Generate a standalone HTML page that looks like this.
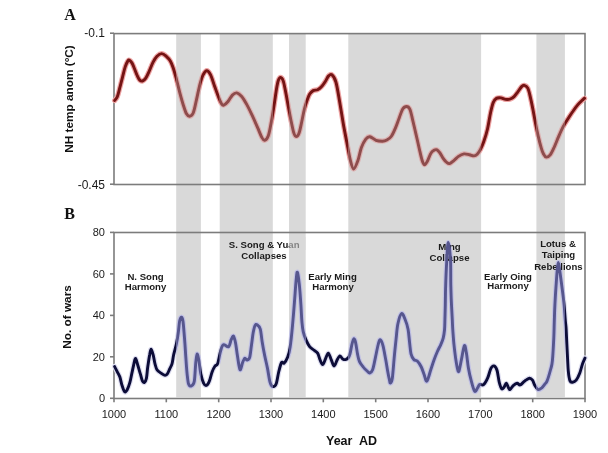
<!DOCTYPE html>
<html><head><meta charset="utf-8"><style>
html,body{margin:0;padding:0;background:#fff;}
body{width:608px;height:453px;overflow:hidden;position:relative;}
svg{position:absolute;left:0;top:0;filter:blur(0.3px);}
text{font-family:"Liberation Sans",sans-serif;}
</style></head><body>
<svg width="608" height="453" viewBox="0 0 608 453" xmlns="http://www.w3.org/2000/svg">
<defs>
<clipPath id="out"><rect x="0.0" y="0" width="176.2" height="453"/><rect x="200.9" y="0" width="18.8" height="453"/><rect x="272.8" y="0" width="16.2" height="453"/><rect x="305.7" y="0" width="42.6" height="453"/><rect x="481.1" y="0" width="55.3" height="453"/><rect x="564.9" y="0" width="43.1" height="453"/></clipPath>
<clipPath id="inb"><rect x="176.2" y="0" width="24.7" height="453"/><rect x="219.7" y="0" width="53.1" height="453"/><rect x="289.0" y="0" width="16.7" height="453"/><rect x="348.3" y="0" width="132.8" height="453"/><rect x="536.4" y="0" width="28.5" height="453"/></clipPath>
</defs>
<g fill="#d9d9d9"><rect x="176.2" y="34.0" width="24.7" height="363.2"/><rect x="219.7" y="34.0" width="53.1" height="363.2"/><rect x="289.0" y="34.0" width="16.7" height="363.2"/><rect x="348.3" y="34.0" width="132.8" height="363.2"/><rect x="536.4" y="34.0" width="28.5" height="363.2"/></g>
<g fill="none" stroke="#7c7c7c" stroke-width="1.6">
<rect x="114" y="33.6" width="471" height="150.9"/>
<rect x="114" y="232.5" width="471" height="166"/>
<line x1="114.0" y1="398.3" x2="114.0" y2="402.3"/><line x1="166.3" y1="398.3" x2="166.3" y2="402.3"/><line x1="218.7" y1="398.3" x2="218.7" y2="402.3"/><line x1="271.0" y1="398.3" x2="271.0" y2="402.3"/><line x1="323.3" y1="398.3" x2="323.3" y2="402.3"/><line x1="375.7" y1="398.3" x2="375.7" y2="402.3"/><line x1="428.0" y1="398.3" x2="428.0" y2="402.3"/><line x1="480.3" y1="398.3" x2="480.3" y2="402.3"/><line x1="532.7" y1="398.3" x2="532.7" y2="402.3"/><line x1="585.0" y1="398.3" x2="585.0" y2="402.3"/><line x1="110.0" y1="398.3" x2="114.0" y2="398.3"/><line x1="110.0" y1="356.8" x2="114.0" y2="356.8"/><line x1="110.0" y1="315.4" x2="114.0" y2="315.4"/><line x1="110.0" y1="273.9" x2="114.0" y2="273.9"/><line x1="110.0" y1="232.4" x2="114.0" y2="232.4"/><line x1="110.0" y1="33.2" x2="114.0" y2="33.2"/><line x1="110.0" y1="184.2" x2="114.0" y2="184.2"/>
</g>
<g font-size="11" fill="#1a1a1a" text-anchor="middle"><text x="114.0" y="418">1000</text><text x="166.3" y="418">1100</text><text x="218.7" y="418">1200</text><text x="271.0" y="418">1300</text><text x="323.3" y="418">1400</text><text x="375.7" y="418">1500</text><text x="428.0" y="418">1600</text><text x="480.3" y="418">1700</text><text x="532.7" y="418">1800</text><text x="585.0" y="418">1900</text></g>
<g font-size="11" fill="#1a1a1a" text-anchor="end"><text x="105" y="402.3">0</text><text x="105" y="360.8">20</text><text x="105" y="319.4">40</text><text x="105" y="277.9">60</text><text x="105" y="236.4">80</text>
<text x="105" y="37.3" font-size="12">-0.1</text><text x="105" y="188.5" font-size="12">-0.45</text></g>
<g font-weight="bold" font-size="16" fill="#111" style="font-family:'Liberation Serif',serif">
<text x="64.3" y="20" style="font-family:'Liberation Serif',serif">A</text>
<text x="64.3" y="218.5" style="font-family:'Liberation Serif',serif">B</text>
</g>
<g font-weight="bold" font-size="12.5" fill="#111">
<text x="326" y="444.6" xml:space="preserve">Year  AD</text>
</g>
<g font-weight="bold" font-size="11.8" fill="#111" text-anchor="middle">
<text transform="translate(73,99) rotate(-90)">NH temp anom (°C)</text>
<text transform="translate(71,317) rotate(-90)">No. of wars</text>
</g>
<g fill="none" stroke-linejoin="round" stroke-linecap="round" stroke-width="5.2">
<path d="M114.6,100.6 C115.0,99.9 116.4,98.9 117.3,96.7 C118.2,94.5 119.0,90.7 119.9,87.4 C120.8,84.1 121.7,80.2 122.6,76.8 C123.5,73.4 124.3,69.6 125.2,66.9 C126.1,64.2 127.2,62.0 127.9,60.9 C128.6,59.8 128.5,59.9 129.2,60.2 C129.9,60.5 131.0,61.5 131.9,62.9 C132.8,64.3 133.6,66.7 134.5,68.8 C135.4,70.9 136.3,73.6 137.2,75.5 C138.1,77.4 138.9,79.2 139.8,80.1 C140.7,81.0 141.5,81.3 142.5,81.0 C143.5,80.7 144.7,79.7 145.8,78.1 C146.9,76.5 147.9,74.2 149.1,71.5 C150.3,68.8 151.8,64.7 153.1,62.2 C154.4,59.7 155.6,57.7 157.0,56.3 C158.4,54.9 160.1,53.6 161.7,53.6 C163.2,53.6 164.9,55.1 166.3,56.3 C167.7,57.5 169.1,59.0 170.3,61.0 C171.5,63.0 172.2,65.1 173.3,68.2 C174.4,71.3 175.5,75.7 176.6,79.8 C177.7,83.9 178.8,88.9 179.9,93.1 C181.0,97.2 182.1,101.2 183.2,104.7 C184.3,108.2 185.4,111.9 186.5,113.8 C187.6,115.7 188.4,116.4 189.5,116.3 C190.6,116.2 192.0,115.8 193.2,113.0 C194.4,110.2 195.4,104.4 196.5,99.7 C197.6,95.0 198.7,88.9 199.8,84.8 C200.9,80.7 201.9,77.2 203.1,74.9 C204.3,72.6 205.6,70.7 206.8,70.7 C208.1,70.7 209.3,72.3 210.6,74.9 C211.9,77.5 213.3,82.6 214.7,86.5 C216.1,90.4 217.8,95.2 218.9,98.1 C220.0,101.0 220.7,102.5 221.5,103.7 C222.3,104.9 222.6,105.5 223.7,105.1 C224.8,104.7 226.6,103.2 228.0,101.5 C229.4,99.8 231.0,96.5 232.4,95.1 C233.8,93.7 235.1,92.7 236.7,92.9 C238.2,93.1 240.0,94.6 241.7,96.5 C243.4,98.4 244.9,101.2 246.7,104.4 C248.5,107.6 250.6,112.1 252.4,115.9 C254.2,119.7 255.9,123.8 257.5,127.4 C259.1,131.0 260.6,135.2 261.8,137.4 C263.0,139.6 263.5,140.5 264.6,140.3 C265.7,140.1 267.1,138.9 268.2,136.0 C269.3,133.1 270.1,128.1 271.1,123.1 C272.1,118.1 273.1,111.5 274.0,105.8 C274.9,100.1 275.8,93.2 276.5,89.0 C277.2,84.8 277.6,82.4 278.3,80.5 C279.0,78.6 279.8,77.3 280.6,77.4 C281.4,77.5 282.3,78.3 283.2,80.9 C284.1,83.5 285.0,88.8 285.9,93.2 C286.8,97.6 287.6,102.7 288.5,107.4 C289.4,112.1 290.3,117.2 291.2,121.5 C292.1,125.8 293.0,130.4 293.8,132.9 C294.6,135.4 295.2,136.5 296.1,136.5 C297.0,136.5 298.2,135.4 299.1,132.9 C300.1,130.4 300.9,125.5 301.8,121.5 C302.7,117.5 303.5,112.6 304.4,109.1 C305.3,105.6 306.2,102.8 307.1,100.3 C308.0,97.8 308.7,95.7 309.7,94.1 C310.7,92.5 311.9,91.3 313.2,90.6 C314.5,89.9 316.3,90.3 317.6,89.7 C318.9,89.1 319.9,88.5 321.2,87.1 C322.5,85.7 324.1,83.4 325.3,81.5 C326.5,79.6 327.5,77.0 328.6,75.9 C329.7,74.8 330.6,73.7 331.8,74.7 C333.0,75.7 334.6,77.5 335.9,82.0 C337.2,86.5 338.4,94.5 339.6,101.4 C340.8,108.3 342.0,116.4 343.2,123.3 C344.4,130.2 345.7,136.4 346.9,142.7 C348.1,149.0 349.4,156.5 350.5,160.9 C351.6,165.3 352.5,169.0 353.7,169.0 C354.9,169.0 356.5,164.5 357.8,160.9 C359.1,157.3 360.1,151.2 361.4,147.6 C362.7,144.0 364.4,140.9 365.8,139.1 C367.2,137.3 368.2,136.5 369.9,136.7 C371.6,136.9 373.9,139.6 376.0,140.3 C378.1,141.1 380.6,141.2 382.4,141.2 C384.2,141.1 385.3,140.8 386.8,140.0 C388.3,139.2 389.7,138.6 391.2,136.5 C392.7,134.4 394.3,130.7 395.6,127.6 C396.9,124.5 398.0,121.0 399.2,117.9 C400.4,114.8 401.5,111.0 402.7,109.1 C403.9,107.2 405.4,106.5 406.6,106.5 C407.8,106.5 408.8,107.0 409.8,109.1 C410.8,111.1 411.4,114.7 412.4,118.8 C413.4,122.9 414.7,128.7 415.9,133.8 C417.1,139.0 418.5,145.3 419.5,149.7 C420.5,154.1 421.3,157.8 422.1,160.3 C422.9,162.8 423.5,164.5 424.4,164.7 C425.3,164.8 426.3,163.1 427.4,161.2 C428.5,159.3 429.7,155.0 430.9,153.2 C432.1,151.3 433.5,150.7 434.5,150.1 C435.5,149.5 436.1,149.4 437.0,149.8 C437.9,150.2 438.7,151.2 439.7,152.6 C440.7,154.0 441.9,156.5 443.0,158.1 C444.1,159.7 445.2,161.1 446.3,162.0 C447.4,162.9 448.3,163.9 449.6,163.6 C450.9,163.3 452.6,161.5 454.1,160.3 C455.6,159.1 456.9,157.5 458.5,156.4 C460.1,155.3 462.2,154.2 464.0,153.9 C465.8,153.6 467.9,154.5 469.5,154.8 C471.1,155.1 472.6,156.0 473.9,155.9 C475.2,155.8 476.1,155.3 477.2,154.2 C478.3,153.1 479.4,151.4 480.5,149.3 C481.6,147.2 482.6,144.9 483.8,141.5 C485.0,138.1 486.4,133.8 487.5,129.0 C488.6,124.2 489.6,117.0 490.6,112.5 C491.6,108.0 492.4,104.5 493.4,102.2 C494.3,99.9 495.1,99.1 496.3,98.4 C497.6,97.7 499.3,97.7 500.9,97.9 C502.4,98.1 504.0,99.2 505.6,99.4 C507.2,99.6 508.9,99.5 510.3,99.0 C511.7,98.5 512.9,97.8 514.1,96.6 C515.4,95.4 516.5,93.6 517.8,91.9 C519.0,90.2 520.5,87.7 521.6,86.6 C522.7,85.5 523.4,85.0 524.4,85.3 C525.4,85.5 526.9,86.4 527.8,88.1 C528.7,89.8 529.2,92.1 530.0,95.6 C530.8,99.0 531.9,104.1 532.8,108.8 C533.7,113.5 534.7,119.1 535.6,123.8 C536.5,128.5 537.5,132.8 538.4,136.9 C539.3,141.0 540.4,145.2 541.3,148.1 C542.1,150.9 542.7,152.5 543.5,154.0 C544.3,155.5 545.1,157.0 546.3,157.1 C547.4,157.2 549.0,156.4 550.4,154.6 C551.8,152.8 553.2,149.3 554.6,146.3 C556.0,143.3 557.3,139.6 558.7,136.4 C560.1,133.2 561.3,130.2 562.8,127.3 C564.3,124.4 566.1,121.6 567.8,119.0 C569.5,116.4 571.1,113.8 572.8,111.5 C574.4,109.2 575.9,107.0 577.7,104.9 C579.5,102.8 582.4,100.2 583.5,99.1 C584.6,98.0 584.4,98.4 584.6,98.3" stroke="#eea4a4" clip-path="url(#out)"/>
<path d="M114.6,100.6 C115.0,99.9 116.4,98.9 117.3,96.7 C118.2,94.5 119.0,90.7 119.9,87.4 C120.8,84.1 121.7,80.2 122.6,76.8 C123.5,73.4 124.3,69.6 125.2,66.9 C126.1,64.2 127.2,62.0 127.9,60.9 C128.6,59.8 128.5,59.9 129.2,60.2 C129.9,60.5 131.0,61.5 131.9,62.9 C132.8,64.3 133.6,66.7 134.5,68.8 C135.4,70.9 136.3,73.6 137.2,75.5 C138.1,77.4 138.9,79.2 139.8,80.1 C140.7,81.0 141.5,81.3 142.5,81.0 C143.5,80.7 144.7,79.7 145.8,78.1 C146.9,76.5 147.9,74.2 149.1,71.5 C150.3,68.8 151.8,64.7 153.1,62.2 C154.4,59.7 155.6,57.7 157.0,56.3 C158.4,54.9 160.1,53.6 161.7,53.6 C163.2,53.6 164.9,55.1 166.3,56.3 C167.7,57.5 169.1,59.0 170.3,61.0 C171.5,63.0 172.2,65.1 173.3,68.2 C174.4,71.3 175.5,75.7 176.6,79.8 C177.7,83.9 178.8,88.9 179.9,93.1 C181.0,97.2 182.1,101.2 183.2,104.7 C184.3,108.2 185.4,111.9 186.5,113.8 C187.6,115.7 188.4,116.4 189.5,116.3 C190.6,116.2 192.0,115.8 193.2,113.0 C194.4,110.2 195.4,104.4 196.5,99.7 C197.6,95.0 198.7,88.9 199.8,84.8 C200.9,80.7 201.9,77.2 203.1,74.9 C204.3,72.6 205.6,70.7 206.8,70.7 C208.1,70.7 209.3,72.3 210.6,74.9 C211.9,77.5 213.3,82.6 214.7,86.5 C216.1,90.4 217.8,95.2 218.9,98.1 C220.0,101.0 220.7,102.5 221.5,103.7 C222.3,104.9 222.6,105.5 223.7,105.1 C224.8,104.7 226.6,103.2 228.0,101.5 C229.4,99.8 231.0,96.5 232.4,95.1 C233.8,93.7 235.1,92.7 236.7,92.9 C238.2,93.1 240.0,94.6 241.7,96.5 C243.4,98.4 244.9,101.2 246.7,104.4 C248.5,107.6 250.6,112.1 252.4,115.9 C254.2,119.7 255.9,123.8 257.5,127.4 C259.1,131.0 260.6,135.2 261.8,137.4 C263.0,139.6 263.5,140.5 264.6,140.3 C265.7,140.1 267.1,138.9 268.2,136.0 C269.3,133.1 270.1,128.1 271.1,123.1 C272.1,118.1 273.1,111.5 274.0,105.8 C274.9,100.1 275.8,93.2 276.5,89.0 C277.2,84.8 277.6,82.4 278.3,80.5 C279.0,78.6 279.8,77.3 280.6,77.4 C281.4,77.5 282.3,78.3 283.2,80.9 C284.1,83.5 285.0,88.8 285.9,93.2 C286.8,97.6 287.6,102.7 288.5,107.4 C289.4,112.1 290.3,117.2 291.2,121.5 C292.1,125.8 293.0,130.4 293.8,132.9 C294.6,135.4 295.2,136.5 296.1,136.5 C297.0,136.5 298.2,135.4 299.1,132.9 C300.1,130.4 300.9,125.5 301.8,121.5 C302.7,117.5 303.5,112.6 304.4,109.1 C305.3,105.6 306.2,102.8 307.1,100.3 C308.0,97.8 308.7,95.7 309.7,94.1 C310.7,92.5 311.9,91.3 313.2,90.6 C314.5,89.9 316.3,90.3 317.6,89.7 C318.9,89.1 319.9,88.5 321.2,87.1 C322.5,85.7 324.1,83.4 325.3,81.5 C326.5,79.6 327.5,77.0 328.6,75.9 C329.7,74.8 330.6,73.7 331.8,74.7 C333.0,75.7 334.6,77.5 335.9,82.0 C337.2,86.5 338.4,94.5 339.6,101.4 C340.8,108.3 342.0,116.4 343.2,123.3 C344.4,130.2 345.7,136.4 346.9,142.7 C348.1,149.0 349.4,156.5 350.5,160.9 C351.6,165.3 352.5,169.0 353.7,169.0 C354.9,169.0 356.5,164.5 357.8,160.9 C359.1,157.3 360.1,151.2 361.4,147.6 C362.7,144.0 364.4,140.9 365.8,139.1 C367.2,137.3 368.2,136.5 369.9,136.7 C371.6,136.9 373.9,139.6 376.0,140.3 C378.1,141.1 380.6,141.2 382.4,141.2 C384.2,141.1 385.3,140.8 386.8,140.0 C388.3,139.2 389.7,138.6 391.2,136.5 C392.7,134.4 394.3,130.7 395.6,127.6 C396.9,124.5 398.0,121.0 399.2,117.9 C400.4,114.8 401.5,111.0 402.7,109.1 C403.9,107.2 405.4,106.5 406.6,106.5 C407.8,106.5 408.8,107.0 409.8,109.1 C410.8,111.1 411.4,114.7 412.4,118.8 C413.4,122.9 414.7,128.7 415.9,133.8 C417.1,139.0 418.5,145.3 419.5,149.7 C420.5,154.1 421.3,157.8 422.1,160.3 C422.9,162.8 423.5,164.5 424.4,164.7 C425.3,164.8 426.3,163.1 427.4,161.2 C428.5,159.3 429.7,155.0 430.9,153.2 C432.1,151.3 433.5,150.7 434.5,150.1 C435.5,149.5 436.1,149.4 437.0,149.8 C437.9,150.2 438.7,151.2 439.7,152.6 C440.7,154.0 441.9,156.5 443.0,158.1 C444.1,159.7 445.2,161.1 446.3,162.0 C447.4,162.9 448.3,163.9 449.6,163.6 C450.9,163.3 452.6,161.5 454.1,160.3 C455.6,159.1 456.9,157.5 458.5,156.4 C460.1,155.3 462.2,154.2 464.0,153.9 C465.8,153.6 467.9,154.5 469.5,154.8 C471.1,155.1 472.6,156.0 473.9,155.9 C475.2,155.8 476.1,155.3 477.2,154.2 C478.3,153.1 479.4,151.4 480.5,149.3 C481.6,147.2 482.6,144.9 483.8,141.5 C485.0,138.1 486.4,133.8 487.5,129.0 C488.6,124.2 489.6,117.0 490.6,112.5 C491.6,108.0 492.4,104.5 493.4,102.2 C494.3,99.9 495.1,99.1 496.3,98.4 C497.6,97.7 499.3,97.7 500.9,97.9 C502.4,98.1 504.0,99.2 505.6,99.4 C507.2,99.6 508.9,99.5 510.3,99.0 C511.7,98.5 512.9,97.8 514.1,96.6 C515.4,95.4 516.5,93.6 517.8,91.9 C519.0,90.2 520.5,87.7 521.6,86.6 C522.7,85.5 523.4,85.0 524.4,85.3 C525.4,85.5 526.9,86.4 527.8,88.1 C528.7,89.8 529.2,92.1 530.0,95.6 C530.8,99.0 531.9,104.1 532.8,108.8 C533.7,113.5 534.7,119.1 535.6,123.8 C536.5,128.5 537.5,132.8 538.4,136.9 C539.3,141.0 540.4,145.2 541.3,148.1 C542.1,150.9 542.7,152.5 543.5,154.0 C544.3,155.5 545.1,157.0 546.3,157.1 C547.4,157.2 549.0,156.4 550.4,154.6 C551.8,152.8 553.2,149.3 554.6,146.3 C556.0,143.3 557.3,139.6 558.7,136.4 C560.1,133.2 561.3,130.2 562.8,127.3 C564.3,124.4 566.1,121.6 567.8,119.0 C569.5,116.4 571.1,113.8 572.8,111.5 C574.4,109.2 575.9,107.0 577.7,104.9 C579.5,102.8 582.4,100.2 583.5,99.1 C584.6,98.0 584.4,98.4 584.6,98.3" stroke="#dcb0b0" clip-path="url(#inb)"/>
<path d="M114.6,366.5 C115.0,367.4 116.4,370.0 117.3,371.8 C118.2,373.6 119.1,374.9 119.9,377.1 C120.7,379.3 121.1,382.6 121.9,385.0 C122.7,387.4 123.7,390.9 124.6,391.7 C125.5,392.5 126.3,391.2 127.2,389.7 C128.1,388.1 129.1,385.2 129.9,382.4 C130.7,379.6 131.2,376.2 131.9,373.1 C132.6,370.0 133.3,366.2 133.9,363.8 C134.5,361.4 134.9,358.3 135.6,358.5 C136.2,358.7 137.0,362.6 137.8,365.2 C138.6,367.8 139.7,371.8 140.5,374.4 C141.3,377.0 141.8,379.8 142.5,381.1 C143.2,382.4 143.8,382.8 144.5,382.4 C145.2,381.9 145.8,381.0 146.4,378.4 C147.0,375.8 147.2,370.5 147.8,366.5 C148.4,362.5 149.1,357.5 149.7,354.6 C150.2,351.7 150.5,349.3 151.1,349.3 C151.7,349.3 152.4,352.2 153.1,354.6 C153.8,357.0 154.3,361.3 155.0,363.8 C155.7,366.3 156.0,368.2 157.0,369.8 C158.0,371.4 159.8,372.2 161.0,373.1 C162.2,374.0 163.3,374.9 164.3,375.1 C165.3,375.3 166.1,375.4 167.0,374.4 C167.9,373.4 168.8,370.9 169.6,369.1 C170.4,367.3 171.3,366.2 172.0,363.8 C172.7,361.4 172.9,358.3 173.6,355.0 C174.3,351.7 175.6,347.6 176.4,343.8 C177.2,340.1 177.8,336.2 178.3,332.5 C178.8,328.8 179.1,323.9 179.6,321.3 C180.1,318.7 180.9,317.1 181.5,317.1 C182.1,317.1 182.5,317.8 183.0,321.3 C183.5,324.8 184.0,332.2 184.5,338.1 C185.0,344.0 185.4,350.9 185.8,356.9 C186.2,362.8 186.6,369.3 187.1,373.8 C187.6,378.3 187.9,382.1 188.6,384.1 C189.3,386.1 190.4,386.4 191.4,385.9 C192.4,385.4 193.6,385.2 194.3,381.3 C195.0,377.4 195.3,367.0 195.8,362.5 C196.3,358.0 196.6,354.4 197.1,354.1 C197.6,353.8 198.3,357.3 198.9,360.6 C199.5,363.9 200.0,370.1 200.8,373.8 C201.6,377.6 202.7,381.2 203.6,383.1 C204.5,385.0 205.4,385.7 206.4,385.4 C207.4,385.1 208.4,383.6 209.3,381.3 C210.2,379.1 211.2,374.4 212.1,371.9 C213.0,369.4 214.0,367.7 214.9,366.3 C215.8,364.9 216.8,365.9 217.7,363.4 C218.6,360.9 219.6,354.4 220.5,351.3 C221.4,348.2 222.0,345.4 223.3,344.7 C224.6,343.9 227.2,347.6 228.5,346.8 C229.8,346.0 230.4,341.5 231.2,339.7 C232.0,337.9 232.8,335.6 233.5,336.2 C234.2,336.8 234.9,340.0 235.6,343.2 C236.2,346.4 236.8,351.8 237.4,355.6 C238.0,359.4 238.6,363.9 239.1,366.2 C239.6,368.5 239.9,370.3 240.5,369.7 C241.1,369.1 241.9,364.5 242.6,362.6 C243.3,360.7 244.1,358.6 244.8,358.2 C245.6,357.8 246.3,360.1 247.1,360.0 C247.9,359.9 249.0,359.9 249.7,357.4 C250.4,354.9 250.9,349.1 251.5,345.0 C252.1,340.9 252.6,335.8 253.2,332.6 C253.8,329.4 254.3,326.9 255.0,325.6 C255.7,324.3 256.2,324.1 257.1,324.7 C258.0,325.3 259.5,326.3 260.3,329.1 C261.1,331.9 261.4,337.1 262.1,341.5 C262.8,345.9 263.8,351.2 264.7,355.6 C265.6,360.0 266.5,363.5 267.4,367.9 C268.3,372.3 269.1,379.0 270.0,382.1 C270.9,385.2 271.6,386.2 272.6,386.5 C273.6,386.8 275.2,386.3 276.2,383.8 C277.2,381.3 277.9,375.0 278.8,371.5 C279.7,368.0 280.6,364.0 281.5,362.6 C282.4,361.2 283.1,364.1 284.1,363.2 C285.1,362.3 286.7,359.7 287.7,357.1 C288.7,354.5 289.3,352.6 290.1,347.4 C290.9,342.1 291.8,333.3 292.5,325.6 C293.2,317.9 293.9,309.1 294.5,301.4 C295.1,293.7 295.7,284.4 296.2,279.5 C296.7,274.6 296.9,271.5 297.4,272.3 C297.9,273.1 298.7,278.8 299.3,284.4 C299.9,290.0 300.6,300.0 301.0,306.2 C301.4,312.4 301.5,317.3 301.9,321.5 C302.3,325.7 302.5,328.5 303.2,331.6 C303.9,334.7 305.0,337.7 306.1,340.2 C307.2,342.7 308.3,344.9 309.6,346.6 C310.9,348.3 312.7,349.1 314.0,350.2 C315.3,351.3 316.7,351.7 317.6,353.1 C318.6,354.6 318.9,357.0 319.7,358.9 C320.5,360.8 321.6,364.6 322.6,364.6 C323.6,364.6 324.6,360.8 325.5,358.9 C326.4,357.0 327.4,353.0 328.3,353.1 C329.2,353.2 330.2,357.5 331.2,359.6 C332.2,361.8 333.1,365.9 334.1,366.0 C335.1,366.1 336.1,362.0 337.0,360.3 C337.9,358.6 338.9,356.2 339.8,356.0 C340.8,355.8 341.7,358.3 342.7,358.9 C343.7,359.5 344.6,359.8 345.6,359.6 C346.6,359.4 347.8,358.4 348.5,357.5 C349.2,356.6 349.4,356.1 350.0,353.9 C350.6,351.7 351.3,347.0 351.9,344.5 C352.5,342.0 353.2,339.1 353.8,338.8 C354.4,338.5 355.0,340.1 355.6,342.6 C356.2,345.1 356.9,350.8 357.5,353.9 C358.1,357.0 358.4,359.2 359.4,361.4 C360.3,363.6 361.9,365.4 363.2,367.0 C364.4,368.6 365.8,369.8 366.9,370.8 C368.0,371.8 368.8,373.2 369.7,373.0 C370.6,372.8 371.7,372.4 372.6,369.8 C373.6,367.2 374.5,361.8 375.4,357.6 C376.3,353.4 377.4,347.5 378.2,344.5 C379.0,341.5 379.3,339.7 380.1,339.8 C380.9,339.9 382.0,342.1 382.9,345.4 C383.8,348.7 384.9,355.3 385.7,359.5 C386.5,363.7 387.0,367.4 387.6,370.8 C388.2,374.2 389.0,378.2 389.5,380.2 C390.0,382.2 389.9,383.3 390.4,383.0 C390.9,382.7 391.7,382.5 392.3,378.3 C392.9,374.1 393.6,364.2 394.2,357.6 C394.8,351.0 395.5,344.4 396.1,338.8 C396.7,333.2 397.0,328.0 397.9,323.8 C398.8,319.6 400.4,314.1 401.6,313.5 C402.8,312.9 404.2,317.4 405.3,320.0 C406.4,322.6 407.4,325.6 408.1,329.4 C408.8,333.2 409.1,338.5 409.6,342.6 C410.1,346.7 410.3,351.0 411.0,353.8 C411.7,356.6 412.7,358.2 413.8,359.5 C414.9,360.8 416.2,360.1 417.5,361.3 C418.8,362.6 420.2,364.8 421.3,367.0 C422.4,369.2 423.2,372.1 424.1,374.5 C425.0,376.9 425.8,381.9 426.9,381.1 C428.0,380.3 429.6,373.3 430.8,369.7 C432.0,366.1 433.0,362.7 434.1,359.7 C435.2,356.7 436.3,354.0 437.4,351.5 C438.5,349.0 439.7,347.0 440.7,344.8 C441.7,342.6 442.6,340.7 443.2,338.2 C443.8,335.7 444.2,333.0 444.5,330.0 C444.8,327.0 444.8,324.2 444.9,320.0 C445.0,315.8 445.2,310.8 445.3,305.0 C445.4,299.2 445.4,292.5 445.7,285.0 C445.9,277.5 446.4,267.1 446.8,260.0 C447.2,252.9 447.6,242.5 448.2,242.5 C448.8,242.5 450.1,252.9 450.5,260.0 C450.9,267.1 450.6,277.5 450.8,285.0 C451.0,292.5 451.2,299.2 451.5,305.0 C451.8,310.8 452.1,315.8 452.3,320.0 C452.5,324.2 452.5,325.9 452.8,330.0 C453.1,334.1 453.5,340.1 454.0,344.8 C454.5,349.5 455.1,354.2 455.6,358.1 C456.2,362.0 456.8,365.8 457.3,368.0 C457.9,370.2 458.2,372.7 458.9,371.3 C459.6,369.9 460.5,364.0 461.4,359.7 C462.3,355.4 463.6,346.8 464.4,345.7 C465.2,344.6 465.7,349.4 466.4,353.1 C467.1,356.8 467.6,363.3 468.4,368.0 C469.2,372.7 470.3,377.4 471.4,381.3 C472.4,385.2 473.7,390.1 474.7,391.2 C475.7,392.3 476.7,389.1 477.5,388.0 C478.3,386.9 478.6,385.2 479.6,384.6 C480.6,384.0 482.2,385.7 483.6,384.6 C485.0,383.5 486.5,380.6 487.7,377.9 C488.9,375.2 489.8,370.6 490.8,368.6 C491.8,366.6 492.9,365.6 493.9,365.9 C494.9,366.2 496.1,367.4 497.0,370.2 C497.9,373.0 498.5,379.4 499.3,382.5 C500.1,385.6 500.8,387.9 501.6,388.7 C502.4,389.5 503.2,388.1 504.0,387.2 C504.8,386.3 505.5,383.2 506.3,383.3 C507.1,383.4 508.0,387.0 508.6,388.0 C509.2,389.0 509.3,389.9 510.1,389.5 C510.9,389.1 512.0,386.6 513.2,385.6 C514.4,384.6 515.9,383.4 517.1,383.3 C518.3,383.2 518.9,385.3 520.2,384.9 C521.5,384.5 523.2,382.1 524.8,381.0 C526.3,379.9 528.2,378.3 529.5,378.2 C530.8,378.1 531.6,379.0 532.5,380.2 C533.4,381.4 534.0,384.1 534.9,385.6 C535.8,387.2 536.9,389.1 538.0,389.5 C539.1,389.9 540.6,388.8 541.8,387.9 C542.9,387.0 544.0,385.3 544.9,384.1 C545.8,382.9 546.1,383.3 547.1,380.9 C548.1,378.5 549.7,372.9 550.6,369.5 C551.5,366.1 551.9,365.9 552.4,360.6 C552.9,355.3 553.5,344.2 553.8,337.7 C554.1,331.1 554.1,326.8 554.3,321.3 C554.5,315.8 554.6,310.3 554.9,304.8 C555.2,299.3 555.5,293.7 555.9,288.2 C556.3,282.7 556.7,275.9 557.1,271.6 C557.5,267.3 557.8,262.5 558.3,262.5 C558.8,262.5 559.3,267.3 559.9,271.6 C560.5,275.9 561.4,282.7 562.1,288.2 C562.8,293.7 563.6,299.3 564.1,304.8 C564.6,310.3 565.0,317.1 565.4,321.3 C565.8,325.5 565.9,324.3 566.2,330.0 C566.5,335.7 567.0,348.4 567.4,355.3 C567.8,362.2 567.9,366.9 568.3,371.2 C568.7,375.5 569.3,379.1 570.0,380.9 C570.7,382.7 571.7,382.3 572.7,382.2 C573.7,382.1 575.0,381.6 576.2,380.1 C577.4,378.6 578.8,375.6 579.8,373.0 C580.8,370.4 581.5,366.7 582.4,364.2 C583.3,361.7 584.6,359.0 585.0,358.0" stroke="#dedef0" clip-path="url(#out)"/>
<path d="M114.6,366.5 C115.0,367.4 116.4,370.0 117.3,371.8 C118.2,373.6 119.1,374.9 119.9,377.1 C120.7,379.3 121.1,382.6 121.9,385.0 C122.7,387.4 123.7,390.9 124.6,391.7 C125.5,392.5 126.3,391.2 127.2,389.7 C128.1,388.1 129.1,385.2 129.9,382.4 C130.7,379.6 131.2,376.2 131.9,373.1 C132.6,370.0 133.3,366.2 133.9,363.8 C134.5,361.4 134.9,358.3 135.6,358.5 C136.2,358.7 137.0,362.6 137.8,365.2 C138.6,367.8 139.7,371.8 140.5,374.4 C141.3,377.0 141.8,379.8 142.5,381.1 C143.2,382.4 143.8,382.8 144.5,382.4 C145.2,381.9 145.8,381.0 146.4,378.4 C147.0,375.8 147.2,370.5 147.8,366.5 C148.4,362.5 149.1,357.5 149.7,354.6 C150.2,351.7 150.5,349.3 151.1,349.3 C151.7,349.3 152.4,352.2 153.1,354.6 C153.8,357.0 154.3,361.3 155.0,363.8 C155.7,366.3 156.0,368.2 157.0,369.8 C158.0,371.4 159.8,372.2 161.0,373.1 C162.2,374.0 163.3,374.9 164.3,375.1 C165.3,375.3 166.1,375.4 167.0,374.4 C167.9,373.4 168.8,370.9 169.6,369.1 C170.4,367.3 171.3,366.2 172.0,363.8 C172.7,361.4 172.9,358.3 173.6,355.0 C174.3,351.7 175.6,347.6 176.4,343.8 C177.2,340.1 177.8,336.2 178.3,332.5 C178.8,328.8 179.1,323.9 179.6,321.3 C180.1,318.7 180.9,317.1 181.5,317.1 C182.1,317.1 182.5,317.8 183.0,321.3 C183.5,324.8 184.0,332.2 184.5,338.1 C185.0,344.0 185.4,350.9 185.8,356.9 C186.2,362.8 186.6,369.3 187.1,373.8 C187.6,378.3 187.9,382.1 188.6,384.1 C189.3,386.1 190.4,386.4 191.4,385.9 C192.4,385.4 193.6,385.2 194.3,381.3 C195.0,377.4 195.3,367.0 195.8,362.5 C196.3,358.0 196.6,354.4 197.1,354.1 C197.6,353.8 198.3,357.3 198.9,360.6 C199.5,363.9 200.0,370.1 200.8,373.8 C201.6,377.6 202.7,381.2 203.6,383.1 C204.5,385.0 205.4,385.7 206.4,385.4 C207.4,385.1 208.4,383.6 209.3,381.3 C210.2,379.1 211.2,374.4 212.1,371.9 C213.0,369.4 214.0,367.7 214.9,366.3 C215.8,364.9 216.8,365.9 217.7,363.4 C218.6,360.9 219.6,354.4 220.5,351.3 C221.4,348.2 222.0,345.4 223.3,344.7 C224.6,343.9 227.2,347.6 228.5,346.8 C229.8,346.0 230.4,341.5 231.2,339.7 C232.0,337.9 232.8,335.6 233.5,336.2 C234.2,336.8 234.9,340.0 235.6,343.2 C236.2,346.4 236.8,351.8 237.4,355.6 C238.0,359.4 238.6,363.9 239.1,366.2 C239.6,368.5 239.9,370.3 240.5,369.7 C241.1,369.1 241.9,364.5 242.6,362.6 C243.3,360.7 244.1,358.6 244.8,358.2 C245.6,357.8 246.3,360.1 247.1,360.0 C247.9,359.9 249.0,359.9 249.7,357.4 C250.4,354.9 250.9,349.1 251.5,345.0 C252.1,340.9 252.6,335.8 253.2,332.6 C253.8,329.4 254.3,326.9 255.0,325.6 C255.7,324.3 256.2,324.1 257.1,324.7 C258.0,325.3 259.5,326.3 260.3,329.1 C261.1,331.9 261.4,337.1 262.1,341.5 C262.8,345.9 263.8,351.2 264.7,355.6 C265.6,360.0 266.5,363.5 267.4,367.9 C268.3,372.3 269.1,379.0 270.0,382.1 C270.9,385.2 271.6,386.2 272.6,386.5 C273.6,386.8 275.2,386.3 276.2,383.8 C277.2,381.3 277.9,375.0 278.8,371.5 C279.7,368.0 280.6,364.0 281.5,362.6 C282.4,361.2 283.1,364.1 284.1,363.2 C285.1,362.3 286.7,359.7 287.7,357.1 C288.7,354.5 289.3,352.6 290.1,347.4 C290.9,342.1 291.8,333.3 292.5,325.6 C293.2,317.9 293.9,309.1 294.5,301.4 C295.1,293.7 295.7,284.4 296.2,279.5 C296.7,274.6 296.9,271.5 297.4,272.3 C297.9,273.1 298.7,278.8 299.3,284.4 C299.9,290.0 300.6,300.0 301.0,306.2 C301.4,312.4 301.5,317.3 301.9,321.5 C302.3,325.7 302.5,328.5 303.2,331.6 C303.9,334.7 305.0,337.7 306.1,340.2 C307.2,342.7 308.3,344.9 309.6,346.6 C310.9,348.3 312.7,349.1 314.0,350.2 C315.3,351.3 316.7,351.7 317.6,353.1 C318.6,354.6 318.9,357.0 319.7,358.9 C320.5,360.8 321.6,364.6 322.6,364.6 C323.6,364.6 324.6,360.8 325.5,358.9 C326.4,357.0 327.4,353.0 328.3,353.1 C329.2,353.2 330.2,357.5 331.2,359.6 C332.2,361.8 333.1,365.9 334.1,366.0 C335.1,366.1 336.1,362.0 337.0,360.3 C337.9,358.6 338.9,356.2 339.8,356.0 C340.8,355.8 341.7,358.3 342.7,358.9 C343.7,359.5 344.6,359.8 345.6,359.6 C346.6,359.4 347.8,358.4 348.5,357.5 C349.2,356.6 349.4,356.1 350.0,353.9 C350.6,351.7 351.3,347.0 351.9,344.5 C352.5,342.0 353.2,339.1 353.8,338.8 C354.4,338.5 355.0,340.1 355.6,342.6 C356.2,345.1 356.9,350.8 357.5,353.9 C358.1,357.0 358.4,359.2 359.4,361.4 C360.3,363.6 361.9,365.4 363.2,367.0 C364.4,368.6 365.8,369.8 366.9,370.8 C368.0,371.8 368.8,373.2 369.7,373.0 C370.6,372.8 371.7,372.4 372.6,369.8 C373.6,367.2 374.5,361.8 375.4,357.6 C376.3,353.4 377.4,347.5 378.2,344.5 C379.0,341.5 379.3,339.7 380.1,339.8 C380.9,339.9 382.0,342.1 382.9,345.4 C383.8,348.7 384.9,355.3 385.7,359.5 C386.5,363.7 387.0,367.4 387.6,370.8 C388.2,374.2 389.0,378.2 389.5,380.2 C390.0,382.2 389.9,383.3 390.4,383.0 C390.9,382.7 391.7,382.5 392.3,378.3 C392.9,374.1 393.6,364.2 394.2,357.6 C394.8,351.0 395.5,344.4 396.1,338.8 C396.7,333.2 397.0,328.0 397.9,323.8 C398.8,319.6 400.4,314.1 401.6,313.5 C402.8,312.9 404.2,317.4 405.3,320.0 C406.4,322.6 407.4,325.6 408.1,329.4 C408.8,333.2 409.1,338.5 409.6,342.6 C410.1,346.7 410.3,351.0 411.0,353.8 C411.7,356.6 412.7,358.2 413.8,359.5 C414.9,360.8 416.2,360.1 417.5,361.3 C418.8,362.6 420.2,364.8 421.3,367.0 C422.4,369.2 423.2,372.1 424.1,374.5 C425.0,376.9 425.8,381.9 426.9,381.1 C428.0,380.3 429.6,373.3 430.8,369.7 C432.0,366.1 433.0,362.7 434.1,359.7 C435.2,356.7 436.3,354.0 437.4,351.5 C438.5,349.0 439.7,347.0 440.7,344.8 C441.7,342.6 442.6,340.7 443.2,338.2 C443.8,335.7 444.2,333.0 444.5,330.0 C444.8,327.0 444.8,324.2 444.9,320.0 C445.0,315.8 445.2,310.8 445.3,305.0 C445.4,299.2 445.4,292.5 445.7,285.0 C445.9,277.5 446.4,267.1 446.8,260.0 C447.2,252.9 447.6,242.5 448.2,242.5 C448.8,242.5 450.1,252.9 450.5,260.0 C450.9,267.1 450.6,277.5 450.8,285.0 C451.0,292.5 451.2,299.2 451.5,305.0 C451.8,310.8 452.1,315.8 452.3,320.0 C452.5,324.2 452.5,325.9 452.8,330.0 C453.1,334.1 453.5,340.1 454.0,344.8 C454.5,349.5 455.1,354.2 455.6,358.1 C456.2,362.0 456.8,365.8 457.3,368.0 C457.9,370.2 458.2,372.7 458.9,371.3 C459.6,369.9 460.5,364.0 461.4,359.7 C462.3,355.4 463.6,346.8 464.4,345.7 C465.2,344.6 465.7,349.4 466.4,353.1 C467.1,356.8 467.6,363.3 468.4,368.0 C469.2,372.7 470.3,377.4 471.4,381.3 C472.4,385.2 473.7,390.1 474.7,391.2 C475.7,392.3 476.7,389.1 477.5,388.0 C478.3,386.9 478.6,385.2 479.6,384.6 C480.6,384.0 482.2,385.7 483.6,384.6 C485.0,383.5 486.5,380.6 487.7,377.9 C488.9,375.2 489.8,370.6 490.8,368.6 C491.8,366.6 492.9,365.6 493.9,365.9 C494.9,366.2 496.1,367.4 497.0,370.2 C497.9,373.0 498.5,379.4 499.3,382.5 C500.1,385.6 500.8,387.9 501.6,388.7 C502.4,389.5 503.2,388.1 504.0,387.2 C504.8,386.3 505.5,383.2 506.3,383.3 C507.1,383.4 508.0,387.0 508.6,388.0 C509.2,389.0 509.3,389.9 510.1,389.5 C510.9,389.1 512.0,386.6 513.2,385.6 C514.4,384.6 515.9,383.4 517.1,383.3 C518.3,383.2 518.9,385.3 520.2,384.9 C521.5,384.5 523.2,382.1 524.8,381.0 C526.3,379.9 528.2,378.3 529.5,378.2 C530.8,378.1 531.6,379.0 532.5,380.2 C533.4,381.4 534.0,384.1 534.9,385.6 C535.8,387.2 536.9,389.1 538.0,389.5 C539.1,389.9 540.6,388.8 541.8,387.9 C542.9,387.0 544.0,385.3 544.9,384.1 C545.8,382.9 546.1,383.3 547.1,380.9 C548.1,378.5 549.7,372.9 550.6,369.5 C551.5,366.1 551.9,365.9 552.4,360.6 C552.9,355.3 553.5,344.2 553.8,337.7 C554.1,331.1 554.1,326.8 554.3,321.3 C554.5,315.8 554.6,310.3 554.9,304.8 C555.2,299.3 555.5,293.7 555.9,288.2 C556.3,282.7 556.7,275.9 557.1,271.6 C557.5,267.3 557.8,262.5 558.3,262.5 C558.8,262.5 559.3,267.3 559.9,271.6 C560.5,275.9 561.4,282.7 562.1,288.2 C562.8,293.7 563.6,299.3 564.1,304.8 C564.6,310.3 565.0,317.1 565.4,321.3 C565.8,325.5 565.9,324.3 566.2,330.0 C566.5,335.7 567.0,348.4 567.4,355.3 C567.8,362.2 567.9,366.9 568.3,371.2 C568.7,375.5 569.3,379.1 570.0,380.9 C570.7,382.7 571.7,382.3 572.7,382.2 C573.7,382.1 575.0,381.6 576.2,380.1 C577.4,378.6 578.8,375.6 579.8,373.0 C580.8,370.4 581.5,366.7 582.4,364.2 C583.3,361.7 584.6,359.0 585.0,358.0" stroke="#c0c0e4" clip-path="url(#inb)"/>
</g>
<g font-weight="bold" font-size="9.6" fill="#1a1a1a" text-anchor="middle">
<text x="145.5" y="280">N. Song</text><text x="145.5" y="290.3">Harmony</text>
<text x="264.2" y="247.8">S. Song &amp; Yuan</text><text x="264" y="258.5">Collapses</text>
<text x="332.5" y="279.7">Early Ming</text><text x="333" y="290">Harmony</text>
<text x="449.5" y="249.7">Ming</text><text x="449.5" y="260.6">Collapse</text>
<text x="508" y="279.6">Early Oing</text><text x="508" y="289.4">Harmony</text>
<text x="558" y="247.3">Lotus &amp;</text><text x="558.5" y="258.2">Taiping</text><text x="558.4" y="269.7">Rebellions</text>
</g>
<rect x="289" y="237" width="16.7" height="13" fill="#d9d9d9" fill-opacity="0.55"/>
<g fill="none" stroke-linejoin="round" stroke-linecap="round" stroke-width="2.9">
<path d="M114.6,100.6 C115.0,99.9 116.4,98.9 117.3,96.7 C118.2,94.5 119.0,90.7 119.9,87.4 C120.8,84.1 121.7,80.2 122.6,76.8 C123.5,73.4 124.3,69.6 125.2,66.9 C126.1,64.2 127.2,62.0 127.9,60.9 C128.6,59.8 128.5,59.9 129.2,60.2 C129.9,60.5 131.0,61.5 131.9,62.9 C132.8,64.3 133.6,66.7 134.5,68.8 C135.4,70.9 136.3,73.6 137.2,75.5 C138.1,77.4 138.9,79.2 139.8,80.1 C140.7,81.0 141.5,81.3 142.5,81.0 C143.5,80.7 144.7,79.7 145.8,78.1 C146.9,76.5 147.9,74.2 149.1,71.5 C150.3,68.8 151.8,64.7 153.1,62.2 C154.4,59.7 155.6,57.7 157.0,56.3 C158.4,54.9 160.1,53.6 161.7,53.6 C163.2,53.6 164.9,55.1 166.3,56.3 C167.7,57.5 169.1,59.0 170.3,61.0 C171.5,63.0 172.2,65.1 173.3,68.2 C174.4,71.3 175.5,75.7 176.6,79.8 C177.7,83.9 178.8,88.9 179.9,93.1 C181.0,97.2 182.1,101.2 183.2,104.7 C184.3,108.2 185.4,111.9 186.5,113.8 C187.6,115.7 188.4,116.4 189.5,116.3 C190.6,116.2 192.0,115.8 193.2,113.0 C194.4,110.2 195.4,104.4 196.5,99.7 C197.6,95.0 198.7,88.9 199.8,84.8 C200.9,80.7 201.9,77.2 203.1,74.9 C204.3,72.6 205.6,70.7 206.8,70.7 C208.1,70.7 209.3,72.3 210.6,74.9 C211.9,77.5 213.3,82.6 214.7,86.5 C216.1,90.4 217.8,95.2 218.9,98.1 C220.0,101.0 220.7,102.5 221.5,103.7 C222.3,104.9 222.6,105.5 223.7,105.1 C224.8,104.7 226.6,103.2 228.0,101.5 C229.4,99.8 231.0,96.5 232.4,95.1 C233.8,93.7 235.1,92.7 236.7,92.9 C238.2,93.1 240.0,94.6 241.7,96.5 C243.4,98.4 244.9,101.2 246.7,104.4 C248.5,107.6 250.6,112.1 252.4,115.9 C254.2,119.7 255.9,123.8 257.5,127.4 C259.1,131.0 260.6,135.2 261.8,137.4 C263.0,139.6 263.5,140.5 264.6,140.3 C265.7,140.1 267.1,138.9 268.2,136.0 C269.3,133.1 270.1,128.1 271.1,123.1 C272.1,118.1 273.1,111.5 274.0,105.8 C274.9,100.1 275.8,93.2 276.5,89.0 C277.2,84.8 277.6,82.4 278.3,80.5 C279.0,78.6 279.8,77.3 280.6,77.4 C281.4,77.5 282.3,78.3 283.2,80.9 C284.1,83.5 285.0,88.8 285.9,93.2 C286.8,97.6 287.6,102.7 288.5,107.4 C289.4,112.1 290.3,117.2 291.2,121.5 C292.1,125.8 293.0,130.4 293.8,132.9 C294.6,135.4 295.2,136.5 296.1,136.5 C297.0,136.5 298.2,135.4 299.1,132.9 C300.1,130.4 300.9,125.5 301.8,121.5 C302.7,117.5 303.5,112.6 304.4,109.1 C305.3,105.6 306.2,102.8 307.1,100.3 C308.0,97.8 308.7,95.7 309.7,94.1 C310.7,92.5 311.9,91.3 313.2,90.6 C314.5,89.9 316.3,90.3 317.6,89.7 C318.9,89.1 319.9,88.5 321.2,87.1 C322.5,85.7 324.1,83.4 325.3,81.5 C326.5,79.6 327.5,77.0 328.6,75.9 C329.7,74.8 330.6,73.7 331.8,74.7 C333.0,75.7 334.6,77.5 335.9,82.0 C337.2,86.5 338.4,94.5 339.6,101.4 C340.8,108.3 342.0,116.4 343.2,123.3 C344.4,130.2 345.7,136.4 346.9,142.7 C348.1,149.0 349.4,156.5 350.5,160.9 C351.6,165.3 352.5,169.0 353.7,169.0 C354.9,169.0 356.5,164.5 357.8,160.9 C359.1,157.3 360.1,151.2 361.4,147.6 C362.7,144.0 364.4,140.9 365.8,139.1 C367.2,137.3 368.2,136.5 369.9,136.7 C371.6,136.9 373.9,139.6 376.0,140.3 C378.1,141.1 380.6,141.2 382.4,141.2 C384.2,141.1 385.3,140.8 386.8,140.0 C388.3,139.2 389.7,138.6 391.2,136.5 C392.7,134.4 394.3,130.7 395.6,127.6 C396.9,124.5 398.0,121.0 399.2,117.9 C400.4,114.8 401.5,111.0 402.7,109.1 C403.9,107.2 405.4,106.5 406.6,106.5 C407.8,106.5 408.8,107.0 409.8,109.1 C410.8,111.1 411.4,114.7 412.4,118.8 C413.4,122.9 414.7,128.7 415.9,133.8 C417.1,139.0 418.5,145.3 419.5,149.7 C420.5,154.1 421.3,157.8 422.1,160.3 C422.9,162.8 423.5,164.5 424.4,164.7 C425.3,164.8 426.3,163.1 427.4,161.2 C428.5,159.3 429.7,155.0 430.9,153.2 C432.1,151.3 433.5,150.7 434.5,150.1 C435.5,149.5 436.1,149.4 437.0,149.8 C437.9,150.2 438.7,151.2 439.7,152.6 C440.7,154.0 441.9,156.5 443.0,158.1 C444.1,159.7 445.2,161.1 446.3,162.0 C447.4,162.9 448.3,163.9 449.6,163.6 C450.9,163.3 452.6,161.5 454.1,160.3 C455.6,159.1 456.9,157.5 458.5,156.4 C460.1,155.3 462.2,154.2 464.0,153.9 C465.8,153.6 467.9,154.5 469.5,154.8 C471.1,155.1 472.6,156.0 473.9,155.9 C475.2,155.8 476.1,155.3 477.2,154.2 C478.3,153.1 479.4,151.4 480.5,149.3 C481.6,147.2 482.6,144.9 483.8,141.5 C485.0,138.1 486.4,133.8 487.5,129.0 C488.6,124.2 489.6,117.0 490.6,112.5 C491.6,108.0 492.4,104.5 493.4,102.2 C494.3,99.9 495.1,99.1 496.3,98.4 C497.6,97.7 499.3,97.7 500.9,97.9 C502.4,98.1 504.0,99.2 505.6,99.4 C507.2,99.6 508.9,99.5 510.3,99.0 C511.7,98.5 512.9,97.8 514.1,96.6 C515.4,95.4 516.5,93.6 517.8,91.9 C519.0,90.2 520.5,87.7 521.6,86.6 C522.7,85.5 523.4,85.0 524.4,85.3 C525.4,85.5 526.9,86.4 527.8,88.1 C528.7,89.8 529.2,92.1 530.0,95.6 C530.8,99.0 531.9,104.1 532.8,108.8 C533.7,113.5 534.7,119.1 535.6,123.8 C536.5,128.5 537.5,132.8 538.4,136.9 C539.3,141.0 540.4,145.2 541.3,148.1 C542.1,150.9 542.7,152.5 543.5,154.0 C544.3,155.5 545.1,157.0 546.3,157.1 C547.4,157.2 549.0,156.4 550.4,154.6 C551.8,152.8 553.2,149.3 554.6,146.3 C556.0,143.3 557.3,139.6 558.7,136.4 C560.1,133.2 561.3,130.2 562.8,127.3 C564.3,124.4 566.1,121.6 567.8,119.0 C569.5,116.4 571.1,113.8 572.8,111.5 C574.4,109.2 575.9,107.0 577.7,104.9 C579.5,102.8 582.4,100.2 583.5,99.1 C584.6,98.0 584.4,98.4 584.6,98.3" stroke="#741414" clip-path="url(#out)"/>
<path d="M114.6,100.6 C115.0,99.9 116.4,98.9 117.3,96.7 C118.2,94.5 119.0,90.7 119.9,87.4 C120.8,84.1 121.7,80.2 122.6,76.8 C123.5,73.4 124.3,69.6 125.2,66.9 C126.1,64.2 127.2,62.0 127.9,60.9 C128.6,59.8 128.5,59.9 129.2,60.2 C129.9,60.5 131.0,61.5 131.9,62.9 C132.8,64.3 133.6,66.7 134.5,68.8 C135.4,70.9 136.3,73.6 137.2,75.5 C138.1,77.4 138.9,79.2 139.8,80.1 C140.7,81.0 141.5,81.3 142.5,81.0 C143.5,80.7 144.7,79.7 145.8,78.1 C146.9,76.5 147.9,74.2 149.1,71.5 C150.3,68.8 151.8,64.7 153.1,62.2 C154.4,59.7 155.6,57.7 157.0,56.3 C158.4,54.9 160.1,53.6 161.7,53.6 C163.2,53.6 164.9,55.1 166.3,56.3 C167.7,57.5 169.1,59.0 170.3,61.0 C171.5,63.0 172.2,65.1 173.3,68.2 C174.4,71.3 175.5,75.7 176.6,79.8 C177.7,83.9 178.8,88.9 179.9,93.1 C181.0,97.2 182.1,101.2 183.2,104.7 C184.3,108.2 185.4,111.9 186.5,113.8 C187.6,115.7 188.4,116.4 189.5,116.3 C190.6,116.2 192.0,115.8 193.2,113.0 C194.4,110.2 195.4,104.4 196.5,99.7 C197.6,95.0 198.7,88.9 199.8,84.8 C200.9,80.7 201.9,77.2 203.1,74.9 C204.3,72.6 205.6,70.7 206.8,70.7 C208.1,70.7 209.3,72.3 210.6,74.9 C211.9,77.5 213.3,82.6 214.7,86.5 C216.1,90.4 217.8,95.2 218.9,98.1 C220.0,101.0 220.7,102.5 221.5,103.7 C222.3,104.9 222.6,105.5 223.7,105.1 C224.8,104.7 226.6,103.2 228.0,101.5 C229.4,99.8 231.0,96.5 232.4,95.1 C233.8,93.7 235.1,92.7 236.7,92.9 C238.2,93.1 240.0,94.6 241.7,96.5 C243.4,98.4 244.9,101.2 246.7,104.4 C248.5,107.6 250.6,112.1 252.4,115.9 C254.2,119.7 255.9,123.8 257.5,127.4 C259.1,131.0 260.6,135.2 261.8,137.4 C263.0,139.6 263.5,140.5 264.6,140.3 C265.7,140.1 267.1,138.9 268.2,136.0 C269.3,133.1 270.1,128.1 271.1,123.1 C272.1,118.1 273.1,111.5 274.0,105.8 C274.9,100.1 275.8,93.2 276.5,89.0 C277.2,84.8 277.6,82.4 278.3,80.5 C279.0,78.6 279.8,77.3 280.6,77.4 C281.4,77.5 282.3,78.3 283.2,80.9 C284.1,83.5 285.0,88.8 285.9,93.2 C286.8,97.6 287.6,102.7 288.5,107.4 C289.4,112.1 290.3,117.2 291.2,121.5 C292.1,125.8 293.0,130.4 293.8,132.9 C294.6,135.4 295.2,136.5 296.1,136.5 C297.0,136.5 298.2,135.4 299.1,132.9 C300.1,130.4 300.9,125.5 301.8,121.5 C302.7,117.5 303.5,112.6 304.4,109.1 C305.3,105.6 306.2,102.8 307.1,100.3 C308.0,97.8 308.7,95.7 309.7,94.1 C310.7,92.5 311.9,91.3 313.2,90.6 C314.5,89.9 316.3,90.3 317.6,89.7 C318.9,89.1 319.9,88.5 321.2,87.1 C322.5,85.7 324.1,83.4 325.3,81.5 C326.5,79.6 327.5,77.0 328.6,75.9 C329.7,74.8 330.6,73.7 331.8,74.7 C333.0,75.7 334.6,77.5 335.9,82.0 C337.2,86.5 338.4,94.5 339.6,101.4 C340.8,108.3 342.0,116.4 343.2,123.3 C344.4,130.2 345.7,136.4 346.9,142.7 C348.1,149.0 349.4,156.5 350.5,160.9 C351.6,165.3 352.5,169.0 353.7,169.0 C354.9,169.0 356.5,164.5 357.8,160.9 C359.1,157.3 360.1,151.2 361.4,147.6 C362.7,144.0 364.4,140.9 365.8,139.1 C367.2,137.3 368.2,136.5 369.9,136.7 C371.6,136.9 373.9,139.6 376.0,140.3 C378.1,141.1 380.6,141.2 382.4,141.2 C384.2,141.1 385.3,140.8 386.8,140.0 C388.3,139.2 389.7,138.6 391.2,136.5 C392.7,134.4 394.3,130.7 395.6,127.6 C396.9,124.5 398.0,121.0 399.2,117.9 C400.4,114.8 401.5,111.0 402.7,109.1 C403.9,107.2 405.4,106.5 406.6,106.5 C407.8,106.5 408.8,107.0 409.8,109.1 C410.8,111.1 411.4,114.7 412.4,118.8 C413.4,122.9 414.7,128.7 415.9,133.8 C417.1,139.0 418.5,145.3 419.5,149.7 C420.5,154.1 421.3,157.8 422.1,160.3 C422.9,162.8 423.5,164.5 424.4,164.7 C425.3,164.8 426.3,163.1 427.4,161.2 C428.5,159.3 429.7,155.0 430.9,153.2 C432.1,151.3 433.5,150.7 434.5,150.1 C435.5,149.5 436.1,149.4 437.0,149.8 C437.9,150.2 438.7,151.2 439.7,152.6 C440.7,154.0 441.9,156.5 443.0,158.1 C444.1,159.7 445.2,161.1 446.3,162.0 C447.4,162.9 448.3,163.9 449.6,163.6 C450.9,163.3 452.6,161.5 454.1,160.3 C455.6,159.1 456.9,157.5 458.5,156.4 C460.1,155.3 462.2,154.2 464.0,153.9 C465.8,153.6 467.9,154.5 469.5,154.8 C471.1,155.1 472.6,156.0 473.9,155.9 C475.2,155.8 476.1,155.3 477.2,154.2 C478.3,153.1 479.4,151.4 480.5,149.3 C481.6,147.2 482.6,144.9 483.8,141.5 C485.0,138.1 486.4,133.8 487.5,129.0 C488.6,124.2 489.6,117.0 490.6,112.5 C491.6,108.0 492.4,104.5 493.4,102.2 C494.3,99.9 495.1,99.1 496.3,98.4 C497.6,97.7 499.3,97.7 500.9,97.9 C502.4,98.1 504.0,99.2 505.6,99.4 C507.2,99.6 508.9,99.5 510.3,99.0 C511.7,98.5 512.9,97.8 514.1,96.6 C515.4,95.4 516.5,93.6 517.8,91.9 C519.0,90.2 520.5,87.7 521.6,86.6 C522.7,85.5 523.4,85.0 524.4,85.3 C525.4,85.5 526.9,86.4 527.8,88.1 C528.7,89.8 529.2,92.1 530.0,95.6 C530.8,99.0 531.9,104.1 532.8,108.8 C533.7,113.5 534.7,119.1 535.6,123.8 C536.5,128.5 537.5,132.8 538.4,136.9 C539.3,141.0 540.4,145.2 541.3,148.1 C542.1,150.9 542.7,152.5 543.5,154.0 C544.3,155.5 545.1,157.0 546.3,157.1 C547.4,157.2 549.0,156.4 550.4,154.6 C551.8,152.8 553.2,149.3 554.6,146.3 C556.0,143.3 557.3,139.6 558.7,136.4 C560.1,133.2 561.3,130.2 562.8,127.3 C564.3,124.4 566.1,121.6 567.8,119.0 C569.5,116.4 571.1,113.8 572.8,111.5 C574.4,109.2 575.9,107.0 577.7,104.9 C579.5,102.8 582.4,100.2 583.5,99.1 C584.6,98.0 584.4,98.4 584.6,98.3" stroke="#8e4c4c" clip-path="url(#inb)"/>
<path d="M114.6,366.5 C115.0,367.4 116.4,370.0 117.3,371.8 C118.2,373.6 119.1,374.9 119.9,377.1 C120.7,379.3 121.1,382.6 121.9,385.0 C122.7,387.4 123.7,390.9 124.6,391.7 C125.5,392.5 126.3,391.2 127.2,389.7 C128.1,388.1 129.1,385.2 129.9,382.4 C130.7,379.6 131.2,376.2 131.9,373.1 C132.6,370.0 133.3,366.2 133.9,363.8 C134.5,361.4 134.9,358.3 135.6,358.5 C136.2,358.7 137.0,362.6 137.8,365.2 C138.6,367.8 139.7,371.8 140.5,374.4 C141.3,377.0 141.8,379.8 142.5,381.1 C143.2,382.4 143.8,382.8 144.5,382.4 C145.2,381.9 145.8,381.0 146.4,378.4 C147.0,375.8 147.2,370.5 147.8,366.5 C148.4,362.5 149.1,357.5 149.7,354.6 C150.2,351.7 150.5,349.3 151.1,349.3 C151.7,349.3 152.4,352.2 153.1,354.6 C153.8,357.0 154.3,361.3 155.0,363.8 C155.7,366.3 156.0,368.2 157.0,369.8 C158.0,371.4 159.8,372.2 161.0,373.1 C162.2,374.0 163.3,374.9 164.3,375.1 C165.3,375.3 166.1,375.4 167.0,374.4 C167.9,373.4 168.8,370.9 169.6,369.1 C170.4,367.3 171.3,366.2 172.0,363.8 C172.7,361.4 172.9,358.3 173.6,355.0 C174.3,351.7 175.6,347.6 176.4,343.8 C177.2,340.1 177.8,336.2 178.3,332.5 C178.8,328.8 179.1,323.9 179.6,321.3 C180.1,318.7 180.9,317.1 181.5,317.1 C182.1,317.1 182.5,317.8 183.0,321.3 C183.5,324.8 184.0,332.2 184.5,338.1 C185.0,344.0 185.4,350.9 185.8,356.9 C186.2,362.8 186.6,369.3 187.1,373.8 C187.6,378.3 187.9,382.1 188.6,384.1 C189.3,386.1 190.4,386.4 191.4,385.9 C192.4,385.4 193.6,385.2 194.3,381.3 C195.0,377.4 195.3,367.0 195.8,362.5 C196.3,358.0 196.6,354.4 197.1,354.1 C197.6,353.8 198.3,357.3 198.9,360.6 C199.5,363.9 200.0,370.1 200.8,373.8 C201.6,377.6 202.7,381.2 203.6,383.1 C204.5,385.0 205.4,385.7 206.4,385.4 C207.4,385.1 208.4,383.6 209.3,381.3 C210.2,379.1 211.2,374.4 212.1,371.9 C213.0,369.4 214.0,367.7 214.9,366.3 C215.8,364.9 216.8,365.9 217.7,363.4 C218.6,360.9 219.6,354.4 220.5,351.3 C221.4,348.2 222.0,345.4 223.3,344.7 C224.6,343.9 227.2,347.6 228.5,346.8 C229.8,346.0 230.4,341.5 231.2,339.7 C232.0,337.9 232.8,335.6 233.5,336.2 C234.2,336.8 234.9,340.0 235.6,343.2 C236.2,346.4 236.8,351.8 237.4,355.6 C238.0,359.4 238.6,363.9 239.1,366.2 C239.6,368.5 239.9,370.3 240.5,369.7 C241.1,369.1 241.9,364.5 242.6,362.6 C243.3,360.7 244.1,358.6 244.8,358.2 C245.6,357.8 246.3,360.1 247.1,360.0 C247.9,359.9 249.0,359.9 249.7,357.4 C250.4,354.9 250.9,349.1 251.5,345.0 C252.1,340.9 252.6,335.8 253.2,332.6 C253.8,329.4 254.3,326.9 255.0,325.6 C255.7,324.3 256.2,324.1 257.1,324.7 C258.0,325.3 259.5,326.3 260.3,329.1 C261.1,331.9 261.4,337.1 262.1,341.5 C262.8,345.9 263.8,351.2 264.7,355.6 C265.6,360.0 266.5,363.5 267.4,367.9 C268.3,372.3 269.1,379.0 270.0,382.1 C270.9,385.2 271.6,386.2 272.6,386.5 C273.6,386.8 275.2,386.3 276.2,383.8 C277.2,381.3 277.9,375.0 278.8,371.5 C279.7,368.0 280.6,364.0 281.5,362.6 C282.4,361.2 283.1,364.1 284.1,363.2 C285.1,362.3 286.7,359.7 287.7,357.1 C288.7,354.5 289.3,352.6 290.1,347.4 C290.9,342.1 291.8,333.3 292.5,325.6 C293.2,317.9 293.9,309.1 294.5,301.4 C295.1,293.7 295.7,284.4 296.2,279.5 C296.7,274.6 296.9,271.5 297.4,272.3 C297.9,273.1 298.7,278.8 299.3,284.4 C299.9,290.0 300.6,300.0 301.0,306.2 C301.4,312.4 301.5,317.3 301.9,321.5 C302.3,325.7 302.5,328.5 303.2,331.6 C303.9,334.7 305.0,337.7 306.1,340.2 C307.2,342.7 308.3,344.9 309.6,346.6 C310.9,348.3 312.7,349.1 314.0,350.2 C315.3,351.3 316.7,351.7 317.6,353.1 C318.6,354.6 318.9,357.0 319.7,358.9 C320.5,360.8 321.6,364.6 322.6,364.6 C323.6,364.6 324.6,360.8 325.5,358.9 C326.4,357.0 327.4,353.0 328.3,353.1 C329.2,353.2 330.2,357.5 331.2,359.6 C332.2,361.8 333.1,365.9 334.1,366.0 C335.1,366.1 336.1,362.0 337.0,360.3 C337.9,358.6 338.9,356.2 339.8,356.0 C340.8,355.8 341.7,358.3 342.7,358.9 C343.7,359.5 344.6,359.8 345.6,359.6 C346.6,359.4 347.8,358.4 348.5,357.5 C349.2,356.6 349.4,356.1 350.0,353.9 C350.6,351.7 351.3,347.0 351.9,344.5 C352.5,342.0 353.2,339.1 353.8,338.8 C354.4,338.5 355.0,340.1 355.6,342.6 C356.2,345.1 356.9,350.8 357.5,353.9 C358.1,357.0 358.4,359.2 359.4,361.4 C360.3,363.6 361.9,365.4 363.2,367.0 C364.4,368.6 365.8,369.8 366.9,370.8 C368.0,371.8 368.8,373.2 369.7,373.0 C370.6,372.8 371.7,372.4 372.6,369.8 C373.6,367.2 374.5,361.8 375.4,357.6 C376.3,353.4 377.4,347.5 378.2,344.5 C379.0,341.5 379.3,339.7 380.1,339.8 C380.9,339.9 382.0,342.1 382.9,345.4 C383.8,348.7 384.9,355.3 385.7,359.5 C386.5,363.7 387.0,367.4 387.6,370.8 C388.2,374.2 389.0,378.2 389.5,380.2 C390.0,382.2 389.9,383.3 390.4,383.0 C390.9,382.7 391.7,382.5 392.3,378.3 C392.9,374.1 393.6,364.2 394.2,357.6 C394.8,351.0 395.5,344.4 396.1,338.8 C396.7,333.2 397.0,328.0 397.9,323.8 C398.8,319.6 400.4,314.1 401.6,313.5 C402.8,312.9 404.2,317.4 405.3,320.0 C406.4,322.6 407.4,325.6 408.1,329.4 C408.8,333.2 409.1,338.5 409.6,342.6 C410.1,346.7 410.3,351.0 411.0,353.8 C411.7,356.6 412.7,358.2 413.8,359.5 C414.9,360.8 416.2,360.1 417.5,361.3 C418.8,362.6 420.2,364.8 421.3,367.0 C422.4,369.2 423.2,372.1 424.1,374.5 C425.0,376.9 425.8,381.9 426.9,381.1 C428.0,380.3 429.6,373.3 430.8,369.7 C432.0,366.1 433.0,362.7 434.1,359.7 C435.2,356.7 436.3,354.0 437.4,351.5 C438.5,349.0 439.7,347.0 440.7,344.8 C441.7,342.6 442.6,340.7 443.2,338.2 C443.8,335.7 444.2,333.0 444.5,330.0 C444.8,327.0 444.8,324.2 444.9,320.0 C445.0,315.8 445.2,310.8 445.3,305.0 C445.4,299.2 445.4,292.5 445.7,285.0 C445.9,277.5 446.4,267.1 446.8,260.0 C447.2,252.9 447.6,242.5 448.2,242.5 C448.8,242.5 450.1,252.9 450.5,260.0 C450.9,267.1 450.6,277.5 450.8,285.0 C451.0,292.5 451.2,299.2 451.5,305.0 C451.8,310.8 452.1,315.8 452.3,320.0 C452.5,324.2 452.5,325.9 452.8,330.0 C453.1,334.1 453.5,340.1 454.0,344.8 C454.5,349.5 455.1,354.2 455.6,358.1 C456.2,362.0 456.8,365.8 457.3,368.0 C457.9,370.2 458.2,372.7 458.9,371.3 C459.6,369.9 460.5,364.0 461.4,359.7 C462.3,355.4 463.6,346.8 464.4,345.7 C465.2,344.6 465.7,349.4 466.4,353.1 C467.1,356.8 467.6,363.3 468.4,368.0 C469.2,372.7 470.3,377.4 471.4,381.3 C472.4,385.2 473.7,390.1 474.7,391.2 C475.7,392.3 476.7,389.1 477.5,388.0 C478.3,386.9 478.6,385.2 479.6,384.6 C480.6,384.0 482.2,385.7 483.6,384.6 C485.0,383.5 486.5,380.6 487.7,377.9 C488.9,375.2 489.8,370.6 490.8,368.6 C491.8,366.6 492.9,365.6 493.9,365.9 C494.9,366.2 496.1,367.4 497.0,370.2 C497.9,373.0 498.5,379.4 499.3,382.5 C500.1,385.6 500.8,387.9 501.6,388.7 C502.4,389.5 503.2,388.1 504.0,387.2 C504.8,386.3 505.5,383.2 506.3,383.3 C507.1,383.4 508.0,387.0 508.6,388.0 C509.2,389.0 509.3,389.9 510.1,389.5 C510.9,389.1 512.0,386.6 513.2,385.6 C514.4,384.6 515.9,383.4 517.1,383.3 C518.3,383.2 518.9,385.3 520.2,384.9 C521.5,384.5 523.2,382.1 524.8,381.0 C526.3,379.9 528.2,378.3 529.5,378.2 C530.8,378.1 531.6,379.0 532.5,380.2 C533.4,381.4 534.0,384.1 534.9,385.6 C535.8,387.2 536.9,389.1 538.0,389.5 C539.1,389.9 540.6,388.8 541.8,387.9 C542.9,387.0 544.0,385.3 544.9,384.1 C545.8,382.9 546.1,383.3 547.1,380.9 C548.1,378.5 549.7,372.9 550.6,369.5 C551.5,366.1 551.9,365.9 552.4,360.6 C552.9,355.3 553.5,344.2 553.8,337.7 C554.1,331.1 554.1,326.8 554.3,321.3 C554.5,315.8 554.6,310.3 554.9,304.8 C555.2,299.3 555.5,293.7 555.9,288.2 C556.3,282.7 556.7,275.9 557.1,271.6 C557.5,267.3 557.8,262.5 558.3,262.5 C558.8,262.5 559.3,267.3 559.9,271.6 C560.5,275.9 561.4,282.7 562.1,288.2 C562.8,293.7 563.6,299.3 564.1,304.8 C564.6,310.3 565.0,317.1 565.4,321.3 C565.8,325.5 565.9,324.3 566.2,330.0 C566.5,335.7 567.0,348.4 567.4,355.3 C567.8,362.2 567.9,366.9 568.3,371.2 C568.7,375.5 569.3,379.1 570.0,380.9 C570.7,382.7 571.7,382.3 572.7,382.2 C573.7,382.1 575.0,381.6 576.2,380.1 C577.4,378.6 578.8,375.6 579.8,373.0 C580.8,370.4 581.5,366.7 582.4,364.2 C583.3,361.7 584.6,359.0 585.0,358.0" stroke="#0c0c38" clip-path="url(#out)"/>
<path d="M114.6,366.5 C115.0,367.4 116.4,370.0 117.3,371.8 C118.2,373.6 119.1,374.9 119.9,377.1 C120.7,379.3 121.1,382.6 121.9,385.0 C122.7,387.4 123.7,390.9 124.6,391.7 C125.5,392.5 126.3,391.2 127.2,389.7 C128.1,388.1 129.1,385.2 129.9,382.4 C130.7,379.6 131.2,376.2 131.9,373.1 C132.6,370.0 133.3,366.2 133.9,363.8 C134.5,361.4 134.9,358.3 135.6,358.5 C136.2,358.7 137.0,362.6 137.8,365.2 C138.6,367.8 139.7,371.8 140.5,374.4 C141.3,377.0 141.8,379.8 142.5,381.1 C143.2,382.4 143.8,382.8 144.5,382.4 C145.2,381.9 145.8,381.0 146.4,378.4 C147.0,375.8 147.2,370.5 147.8,366.5 C148.4,362.5 149.1,357.5 149.7,354.6 C150.2,351.7 150.5,349.3 151.1,349.3 C151.7,349.3 152.4,352.2 153.1,354.6 C153.8,357.0 154.3,361.3 155.0,363.8 C155.7,366.3 156.0,368.2 157.0,369.8 C158.0,371.4 159.8,372.2 161.0,373.1 C162.2,374.0 163.3,374.9 164.3,375.1 C165.3,375.3 166.1,375.4 167.0,374.4 C167.9,373.4 168.8,370.9 169.6,369.1 C170.4,367.3 171.3,366.2 172.0,363.8 C172.7,361.4 172.9,358.3 173.6,355.0 C174.3,351.7 175.6,347.6 176.4,343.8 C177.2,340.1 177.8,336.2 178.3,332.5 C178.8,328.8 179.1,323.9 179.6,321.3 C180.1,318.7 180.9,317.1 181.5,317.1 C182.1,317.1 182.5,317.8 183.0,321.3 C183.5,324.8 184.0,332.2 184.5,338.1 C185.0,344.0 185.4,350.9 185.8,356.9 C186.2,362.8 186.6,369.3 187.1,373.8 C187.6,378.3 187.9,382.1 188.6,384.1 C189.3,386.1 190.4,386.4 191.4,385.9 C192.4,385.4 193.6,385.2 194.3,381.3 C195.0,377.4 195.3,367.0 195.8,362.5 C196.3,358.0 196.6,354.4 197.1,354.1 C197.6,353.8 198.3,357.3 198.9,360.6 C199.5,363.9 200.0,370.1 200.8,373.8 C201.6,377.6 202.7,381.2 203.6,383.1 C204.5,385.0 205.4,385.7 206.4,385.4 C207.4,385.1 208.4,383.6 209.3,381.3 C210.2,379.1 211.2,374.4 212.1,371.9 C213.0,369.4 214.0,367.7 214.9,366.3 C215.8,364.9 216.8,365.9 217.7,363.4 C218.6,360.9 219.6,354.4 220.5,351.3 C221.4,348.2 222.0,345.4 223.3,344.7 C224.6,343.9 227.2,347.6 228.5,346.8 C229.8,346.0 230.4,341.5 231.2,339.7 C232.0,337.9 232.8,335.6 233.5,336.2 C234.2,336.8 234.9,340.0 235.6,343.2 C236.2,346.4 236.8,351.8 237.4,355.6 C238.0,359.4 238.6,363.9 239.1,366.2 C239.6,368.5 239.9,370.3 240.5,369.7 C241.1,369.1 241.9,364.5 242.6,362.6 C243.3,360.7 244.1,358.6 244.8,358.2 C245.6,357.8 246.3,360.1 247.1,360.0 C247.9,359.9 249.0,359.9 249.7,357.4 C250.4,354.9 250.9,349.1 251.5,345.0 C252.1,340.9 252.6,335.8 253.2,332.6 C253.8,329.4 254.3,326.9 255.0,325.6 C255.7,324.3 256.2,324.1 257.1,324.7 C258.0,325.3 259.5,326.3 260.3,329.1 C261.1,331.9 261.4,337.1 262.1,341.5 C262.8,345.9 263.8,351.2 264.7,355.6 C265.6,360.0 266.5,363.5 267.4,367.9 C268.3,372.3 269.1,379.0 270.0,382.1 C270.9,385.2 271.6,386.2 272.6,386.5 C273.6,386.8 275.2,386.3 276.2,383.8 C277.2,381.3 277.9,375.0 278.8,371.5 C279.7,368.0 280.6,364.0 281.5,362.6 C282.4,361.2 283.1,364.1 284.1,363.2 C285.1,362.3 286.7,359.7 287.7,357.1 C288.7,354.5 289.3,352.6 290.1,347.4 C290.9,342.1 291.8,333.3 292.5,325.6 C293.2,317.9 293.9,309.1 294.5,301.4 C295.1,293.7 295.7,284.4 296.2,279.5 C296.7,274.6 296.9,271.5 297.4,272.3 C297.9,273.1 298.7,278.8 299.3,284.4 C299.9,290.0 300.6,300.0 301.0,306.2 C301.4,312.4 301.5,317.3 301.9,321.5 C302.3,325.7 302.5,328.5 303.2,331.6 C303.9,334.7 305.0,337.7 306.1,340.2 C307.2,342.7 308.3,344.9 309.6,346.6 C310.9,348.3 312.7,349.1 314.0,350.2 C315.3,351.3 316.7,351.7 317.6,353.1 C318.6,354.6 318.9,357.0 319.7,358.9 C320.5,360.8 321.6,364.6 322.6,364.6 C323.6,364.6 324.6,360.8 325.5,358.9 C326.4,357.0 327.4,353.0 328.3,353.1 C329.2,353.2 330.2,357.5 331.2,359.6 C332.2,361.8 333.1,365.9 334.1,366.0 C335.1,366.1 336.1,362.0 337.0,360.3 C337.9,358.6 338.9,356.2 339.8,356.0 C340.8,355.8 341.7,358.3 342.7,358.9 C343.7,359.5 344.6,359.8 345.6,359.6 C346.6,359.4 347.8,358.4 348.5,357.5 C349.2,356.6 349.4,356.1 350.0,353.9 C350.6,351.7 351.3,347.0 351.9,344.5 C352.5,342.0 353.2,339.1 353.8,338.8 C354.4,338.5 355.0,340.1 355.6,342.6 C356.2,345.1 356.9,350.8 357.5,353.9 C358.1,357.0 358.4,359.2 359.4,361.4 C360.3,363.6 361.9,365.4 363.2,367.0 C364.4,368.6 365.8,369.8 366.9,370.8 C368.0,371.8 368.8,373.2 369.7,373.0 C370.6,372.8 371.7,372.4 372.6,369.8 C373.6,367.2 374.5,361.8 375.4,357.6 C376.3,353.4 377.4,347.5 378.2,344.5 C379.0,341.5 379.3,339.7 380.1,339.8 C380.9,339.9 382.0,342.1 382.9,345.4 C383.8,348.7 384.9,355.3 385.7,359.5 C386.5,363.7 387.0,367.4 387.6,370.8 C388.2,374.2 389.0,378.2 389.5,380.2 C390.0,382.2 389.9,383.3 390.4,383.0 C390.9,382.7 391.7,382.5 392.3,378.3 C392.9,374.1 393.6,364.2 394.2,357.6 C394.8,351.0 395.5,344.4 396.1,338.8 C396.7,333.2 397.0,328.0 397.9,323.8 C398.8,319.6 400.4,314.1 401.6,313.5 C402.8,312.9 404.2,317.4 405.3,320.0 C406.4,322.6 407.4,325.6 408.1,329.4 C408.8,333.2 409.1,338.5 409.6,342.6 C410.1,346.7 410.3,351.0 411.0,353.8 C411.7,356.6 412.7,358.2 413.8,359.5 C414.9,360.8 416.2,360.1 417.5,361.3 C418.8,362.6 420.2,364.8 421.3,367.0 C422.4,369.2 423.2,372.1 424.1,374.5 C425.0,376.9 425.8,381.9 426.9,381.1 C428.0,380.3 429.6,373.3 430.8,369.7 C432.0,366.1 433.0,362.7 434.1,359.7 C435.2,356.7 436.3,354.0 437.4,351.5 C438.5,349.0 439.7,347.0 440.7,344.8 C441.7,342.6 442.6,340.7 443.2,338.2 C443.8,335.7 444.2,333.0 444.5,330.0 C444.8,327.0 444.8,324.2 444.9,320.0 C445.0,315.8 445.2,310.8 445.3,305.0 C445.4,299.2 445.4,292.5 445.7,285.0 C445.9,277.5 446.4,267.1 446.8,260.0 C447.2,252.9 447.6,242.5 448.2,242.5 C448.8,242.5 450.1,252.9 450.5,260.0 C450.9,267.1 450.6,277.5 450.8,285.0 C451.0,292.5 451.2,299.2 451.5,305.0 C451.8,310.8 452.1,315.8 452.3,320.0 C452.5,324.2 452.5,325.9 452.8,330.0 C453.1,334.1 453.5,340.1 454.0,344.8 C454.5,349.5 455.1,354.2 455.6,358.1 C456.2,362.0 456.8,365.8 457.3,368.0 C457.9,370.2 458.2,372.7 458.9,371.3 C459.6,369.9 460.5,364.0 461.4,359.7 C462.3,355.4 463.6,346.8 464.4,345.7 C465.2,344.6 465.7,349.4 466.4,353.1 C467.1,356.8 467.6,363.3 468.4,368.0 C469.2,372.7 470.3,377.4 471.4,381.3 C472.4,385.2 473.7,390.1 474.7,391.2 C475.7,392.3 476.7,389.1 477.5,388.0 C478.3,386.9 478.6,385.2 479.6,384.6 C480.6,384.0 482.2,385.7 483.6,384.6 C485.0,383.5 486.5,380.6 487.7,377.9 C488.9,375.2 489.8,370.6 490.8,368.6 C491.8,366.6 492.9,365.6 493.9,365.9 C494.9,366.2 496.1,367.4 497.0,370.2 C497.9,373.0 498.5,379.4 499.3,382.5 C500.1,385.6 500.8,387.9 501.6,388.7 C502.4,389.5 503.2,388.1 504.0,387.2 C504.8,386.3 505.5,383.2 506.3,383.3 C507.1,383.4 508.0,387.0 508.6,388.0 C509.2,389.0 509.3,389.9 510.1,389.5 C510.9,389.1 512.0,386.6 513.2,385.6 C514.4,384.6 515.9,383.4 517.1,383.3 C518.3,383.2 518.9,385.3 520.2,384.9 C521.5,384.5 523.2,382.1 524.8,381.0 C526.3,379.9 528.2,378.3 529.5,378.2 C530.8,378.1 531.6,379.0 532.5,380.2 C533.4,381.4 534.0,384.1 534.9,385.6 C535.8,387.2 536.9,389.1 538.0,389.5 C539.1,389.9 540.6,388.8 541.8,387.9 C542.9,387.0 544.0,385.3 544.9,384.1 C545.8,382.9 546.1,383.3 547.1,380.9 C548.1,378.5 549.7,372.9 550.6,369.5 C551.5,366.1 551.9,365.9 552.4,360.6 C552.9,355.3 553.5,344.2 553.8,337.7 C554.1,331.1 554.1,326.8 554.3,321.3 C554.5,315.8 554.6,310.3 554.9,304.8 C555.2,299.3 555.5,293.7 555.9,288.2 C556.3,282.7 556.7,275.9 557.1,271.6 C557.5,267.3 557.8,262.5 558.3,262.5 C558.8,262.5 559.3,267.3 559.9,271.6 C560.5,275.9 561.4,282.7 562.1,288.2 C562.8,293.7 563.6,299.3 564.1,304.8 C564.6,310.3 565.0,317.1 565.4,321.3 C565.8,325.5 565.9,324.3 566.2,330.0 C566.5,335.7 567.0,348.4 567.4,355.3 C567.8,362.2 567.9,366.9 568.3,371.2 C568.7,375.5 569.3,379.1 570.0,380.9 C570.7,382.7 571.7,382.3 572.7,382.2 C573.7,382.1 575.0,381.6 576.2,380.1 C577.4,378.6 578.8,375.6 579.8,373.0 C580.8,370.4 581.5,366.7 582.4,364.2 C583.3,361.7 584.6,359.0 585.0,358.0" stroke="#56568e" clip-path="url(#inb)"/>
</g>
</svg>
</body></html>
